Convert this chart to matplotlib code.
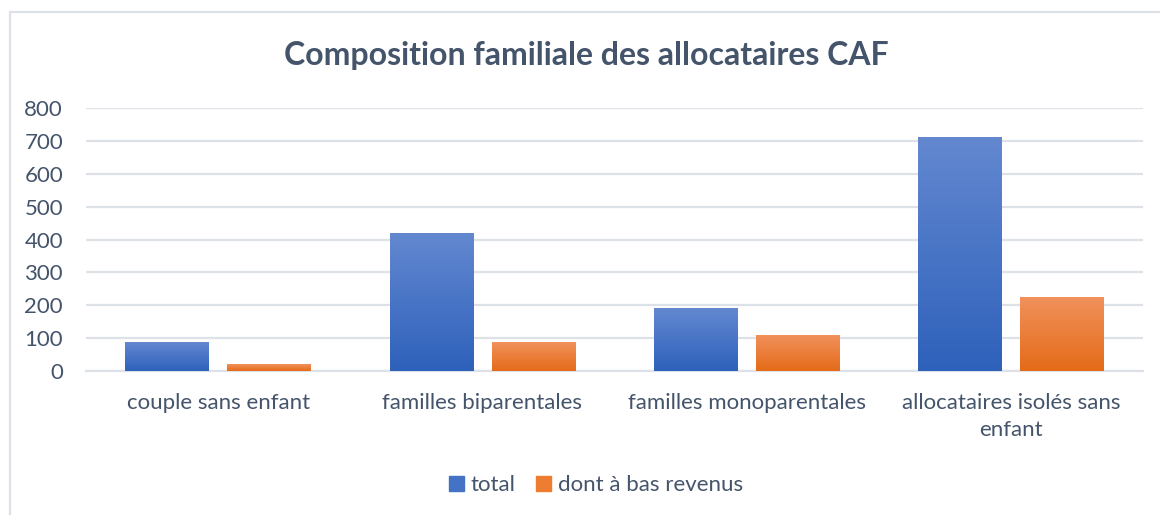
#!/usr/bin/env python3
"""Composition familiale des allocataires CAF - barres groupées."""
import numpy as np
import matplotlib

matplotlib.use("Agg")
import matplotlib.pyplot as plt
from matplotlib.colors import LinearSegmentedColormap
from matplotlib.patches import Rectangle

categories = [
    "couple sans enfant",
    "familles biparentales",
    "familles monoparentales",
    "allocataires isolés sans\nenfant",
]
series_names = ["total", "dont à bas revenus"]
total = [88, 420, 191, 712]
bas_revenus = [20, 88, 109, 225]
y_ticks = [0, 100, 200, 300, 400, 500, 600, 700, 800]

text_color = "#44546a"
grid_color = "#dde1e8"
blue_top, blue_mid, blue_bottom = "#6388d0", "#4472c4", "#2e61bb"
orange_top, orange_mid, orange_bottom = "#f1915c", "#ed7d31", "#e46b18"

plt.rcParams["font.family"] = ["Lato", "DejaVu Sans"]

fig = plt.figure(figsize=(11.6, 5.15), dpi=100)
fig.patch.set_facecolor("white")

# cadre du graphique
fig.patches.append(
    Rectangle((10 / 1160, -0.05), 1.2, 1 - 12 / 515 + 0.05, transform=fig.transFigure,
              fill=False, edgecolor=grid_color, linewidth=1.6, zorder=0)
)

ax = fig.add_axes([86 / 1160, 1 - 370.7 / 515, (1143 - 86) / 1160, (370.7 - 108.3) / 515])
ax.set_facecolor("white")

x = np.arange(len(categories))
width = 0.316
gap = 0.07
bars_total = ax.bar(x - (width + gap) / 2, total, width, color=blue_mid, zorder=3, label=series_names[0])
bars_low = ax.bar(x + (width + gap) / 2, bas_revenus, width, color=orange_mid, zorder=3, label=series_names[1])


def gradient_fill(bars, top, bottom):
    cmap = LinearSegmentedColormap.from_list("g", [bottom, top])
    grad = np.linspace(0, 1, 256).reshape(-1, 1)
    for bar in bars:
        bx, bw, bh = bar.get_x(), bar.get_width(), bar.get_height()
        im = ax.imshow(grad, cmap=cmap, origin="lower", aspect="auto",
                       extent=[bx, bx + bw, 0, bh], zorder=4)
        im.set_clip_path(bar)


gradient_fill(bars_total, blue_top, blue_bottom)
gradient_fill(bars_low, orange_top, orange_bottom)

ax.set_xlim(-0.5, len(categories) - 0.5)
ax.set_ylim(0, 800)
ax.set_yticks(y_ticks)
ax.set_yticklabels([str(v) for v in y_ticks])
ax.set_xticks(x)
ax.set_xticklabels(categories, linespacing=1.45)
ax.tick_params(axis="both", length=0, colors=text_color, labelsize=16)
ax.tick_params(axis="y", pad=16.5)
ax.tick_params(axis="x", pad=16)
for label in ax.get_xticklabels() + ax.get_yticklabels():
    label.set_color(text_color)

ax.grid(axis="y", color=grid_color, linewidth=1.6, zorder=0)
ax.set_axisbelow(True)
for side in ["top", "right", "left"]:
    ax.spines[side].set_visible(False)
ax.spines["bottom"].set_color(grid_color)
ax.spines["bottom"].set_linewidth(1.6)

fig.text(586 / 1160, 1 - 55 / 515, "Composition familiale des allocataires CAF",
         ha="center", va="center", fontsize=23, fontweight="bold", color=text_color)

leg = fig.legend(
    handles=[Rectangle((0, 0), 1, 1, color=blue_mid), Rectangle((0, 0), 1, 1, color=orange_mid)],
    labels=series_names,
    loc="center", bbox_to_anchor=(596 / 1160, 1 - 485 / 515), ncol=2, frameon=False,
    fontsize=16, handlelength=0.65, handleheight=0.65, handletextpad=0.3, columnspacing=0.95,
)
for t in leg.get_texts():
    t.set_color(text_color)

fig.savefig("out.png", dpi=100)
